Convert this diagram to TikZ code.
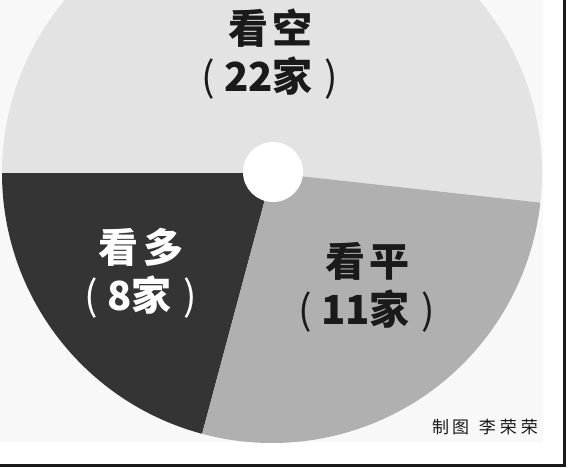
\documentclass[tikz,border=0pt]{standalone}
\usepackage{fontspec}
\newfontfamily\cjk{Noto Sans CJK SC}
\definecolor{kong}{HTML}{E3E3E3}
\definecolor{duo}{HTML}{343434}
\definecolor{ping}{HTML}{B0B0B0}
\definecolor{paper}{HTML}{F8F8F8}
\definecolor{ink}{HTML}{1A1A1A}
\newcommand\lpar{{\mdseries(}\hspace{9pt}}
\newcommand\rpar{\hspace{12pt}{\mdseries)}}
\begin{document}
\begin{tikzpicture}[x=1pt,y=1pt,
  lbl/.style={font=\cjk\bfseries\fontsize{40}{48}\selectfont, align=center, inner sep=0pt},
  credit/.style={font=\cjk\fontsize{17}{20}\selectfont, text=black!90, inner sep=0pt},
  frameline/.style={line width=3pt, draw=ink}]
\useasboundingbox (0,0) rectangle (575,-467);
\fill[paper] (0,0) rectangle (543,-442);
\begin{scope}
  \clip (0,0) rectangle (543,-442);
  \coordinate (c) at (272,-173);
  \fill[kong] (c) -- ++(-6.3:270) arc[start angle=-6.3, end angle=180, radius=270] -- cycle;
  \fill[duo] (c) -- ++(180:270) arc[start angle=180, end angle=255, radius=270] -- cycle;
  \fill[ping] (c) -- ++(255:270) arc[start angle=255, end angle=353.7, radius=270] -- cycle;
  \fill[white] (273,-172) circle[radius=30];
\end{scope}
\node[lbl, text=ink] (kong) at (270,-54) {看\hspace{4pt}空\\\lpar 22家\rpar};
\node[lbl, text=white] (duo) at (141,-273) {看\hspace{5pt}多\\\lpar 8家\rpar};
\node[lbl, text=ink] (ping) at (367,-287.5) {看\hspace{4pt}平\\\lpar 11家\rpar};
\node[credit] (cr) at (485,-427.5) {制\hspace{3pt}图\hspace{6pt} 李\hspace{4pt}荣\hspace{4pt}荣};
\draw[frameline] (0,-465) -- (566,-465);
\draw[frameline] (564.5,0) -- (564.5,-466.5);
\end{tikzpicture}
\end{document}
